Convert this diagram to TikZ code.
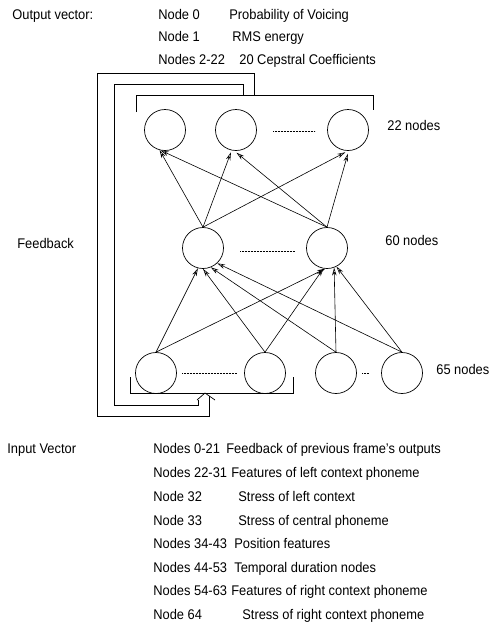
\documentclass[tikz,border=0pt]{standalone}
\usepackage{fontspec}
\setmainfont{Liberation Sans}[FakeStretch=0.92]
\usetikzlibrary{arrows.meta,calc}
\begin{document}
\begin{tikzpicture}[x=1pt,y=-1pt, line width=0.7pt,
  neuron/.style={circle,draw,minimum size=41pt,inner sep=0pt,line width=0.7pt},
  lbl/.style={anchor=mid west,inner sep=0pt,font=\fontsize{14}{16}\selectfont},
  conn/.style={-{Stealth[length=8pt,width=4.5pt,open]}, line width=0.6pt},
  dotline/.style={dash pattern=on 0.6pt off 0.9pt, line width=0.5pt},
  frame/.style={line width=0.7pt}]
\useasboundingbox (0,0) rectangle (489,625);

% output vector text
\node[lbl] (ov) at (12,17) {Output vector:};
\node[lbl] (o0) at (158,17) {Node 0};
\node[lbl] (o0d) at (229,17) {Probability of Voicing};
\node[lbl] (o1) at (158,39) {Node 1};
\node[lbl] (o1d) at (232,39) {RMS energy};
\node[lbl] (o2) at (158,62) {Nodes 2-22};
\node[lbl] (o2d) at (239,62) {20 Cepstral Coefficients};

\node[lbl] (fb) at (17,246) {Feedback};
\node[lbl] (iv) at (7,451) {Input Vector};

% input vector text
\node[lbl] (i0) at (153,451) {Nodes 0-21};   \node[lbl] (i0d) at (226,451) {Feedback of previous frame's outputs};
\node[lbl] (i1) at (153,475) {Nodes 22-31};  \node[lbl] (i1d) at (231,475) {Features of left context phoneme};
\node[lbl] (i2) at (153,499) {Node 32};      \node[lbl] (i2d) at (238,499) {Stress of left context};
\node[lbl] (i3) at (153,523) {Node 33};      \node[lbl] (i3d) at (238,523) {Stress of central phoneme};
\node[lbl] (i4) at (153,546) {Nodes 34-43};  \node[lbl] (i4d) at (234,546) {Position features};
\node[lbl] (i5) at (153,570) {Nodes 44-53};  \node[lbl] (i5d) at (234,570) {Temporal duration nodes};
\node[lbl] (i6) at (153,593) {Nodes 54-63};  \node[lbl] (i6d) at (231,593) {Features of right context phoneme};
\node[lbl] (i7) at (153,617) {Node 64};      \node[lbl] (i7d) at (242,617) {Stress of right context phoneme};

% neurons
\node[neuron] (t1) at (165,130) {};
\node[neuron] (t2) at (236,130) {};
\node[neuron] (t3) at (348,130) {};
\node[neuron] (m1) at (203,248) {};
\node[neuron] (m2) at (327,248) {};
\node[neuron] (b1) at (156,373) {};
\node[neuron] (b2) at (265,373) {};
\node[neuron] (b3) at (336,373) {};
\node[neuron] (b4) at (402,373) {};

% layer labels
\node[lbl] (l22) at (387,128) {22 nodes};
\node[lbl] (l60) at (385,243) {60 nodes};
\node[lbl] (l65) at (436,372) {65 nodes};

% dotted fillers
\draw[dotline] (273,131) -- (315,131);
\draw[dotline] (240,251) -- (295,251);
\draw[dotline] (182,373) -- (237,373);
\draw[dotline] (362,373) -- (369,373);

% brackets
\draw[frame] (136,112) -- (136,95) -- (373,95) -- (373,110);
\draw[frame] (130,377) -- (130,393) -- (293,393) -- (293,377);

% feedback loops
\coordinate (fo1) at (254,95);
\coordinate (fm1) at (243,95);
\draw[frame] (fo1) -- (254,73) -- (97,73) -- (97,416) -- (209,416) -- (209,396);
\draw[frame] (fm1) -- (243,84) -- (114,84) -- (114,405) -- (198,405) -- (198,399.5);
\draw[frame] (197,400) -- (205,393) -- (215,400);

% hidden -> output
\draw[conn] (m1.north) -- (t1.255);
\draw[conn] (m2.north) -- (t1.258);
\draw[conn, shorten >=2pt] (m1.north) -- (t2.258);
\draw[conn, shorten >=3pt] (m2.north) -- (t2.265);
\draw[conn, shorten >=3pt] (m1.north) -- (t3.270);
\draw[conn, shorten >=3pt] (m2.north) -- (t3.272);

% input -> hidden
\draw[conn] (b1.north) -- (m1.256);
\draw[conn] (b2.north) -- (m1.270);
\draw[conn] (b3.north) -- (m1.292);
\draw[conn] (b4.north) -- (m1.313);
\draw[conn] (b1.north) -- (m2.265);
\draw[conn] (b2.north) -- (m2.260);
\draw[conn] (b3.north) -- (m2.290);
\draw[conn] (b4.north) -- (m2.297);
\end{tikzpicture}
\end{document}
